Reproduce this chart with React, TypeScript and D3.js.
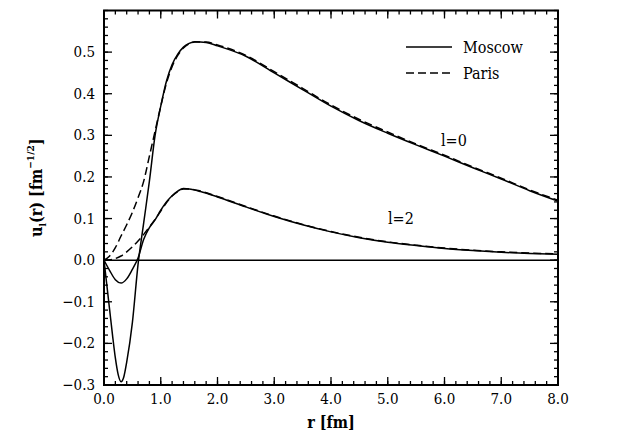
import React from "react";
import * as d3 from "d3";

const rS0M = [0, 0.05, 0.1, 0.15, 0.2, 0.25, 0.3, 0.35, 0.4, 0.5, 0.6, 0.7, 0.8, 0.9, 1.0, 1.1, 1.2, 1.3, 1.4, 1.5, 1.6, 1.8, 2.0, 2.5, 3.0, 3.5, 4.0, 4.5, 5.0, 5.5, 6.0, 6.5, 7.0, 7.5, 8.0];
const uS0Moscow = [0, -0.06, -0.12, -0.18, -0.235, -0.275, -0.292, -0.28, -0.245, -0.15, -0.01, 0.09, 0.19, 0.3, 0.37, 0.43, 0.47, 0.495, 0.512, 0.521, 0.525, 0.523, 0.515, 0.49, 0.45, 0.41, 0.37, 0.335, 0.305, 0.277, 0.25, 0.222, 0.195, 0.167, 0.142];

const rS0P = [0, 0.1, 0.2, 0.3, 0.4, 0.5, 0.6, 0.7, 0.8, 0.9, 1.0, 1.1, 1.2, 1.3, 1.4, 1.5, 1.6, 1.8, 2.0, 2.5, 3.0, 3.5, 4.0, 4.5, 5.0, 5.5, 6.0, 6.5, 7.0, 7.5, 8.0];
const uS0Paris = [0, 0.01, 0.03, 0.058, 0.085, 0.115, 0.15, 0.19, 0.25, 0.31, 0.37, 0.425, 0.465, 0.492, 0.51, 0.52, 0.524, 0.524, 0.517, 0.492, 0.453, 0.413, 0.373, 0.338, 0.308, 0.279, 0.252, 0.224, 0.197, 0.169, 0.144];

const rD2M = [0, 0.1, 0.2, 0.3, 0.4, 0.5, 0.6, 0.7, 0.8, 0.9, 1.0, 1.1, 1.2, 1.3, 1.4, 1.5, 1.7, 2.0, 2.5, 3.0, 3.5, 4.0, 4.5, 5.0, 5.5, 6.0, 6.5, 7.0, 7.5, 8.0];
const uD2Moscow = [0, -0.025, -0.047, -0.055, -0.045, -0.022, 0.005, 0.05, 0.078, 0.097, 0.12, 0.14, 0.155, 0.166, 0.172, 0.171, 0.165, 0.152, 0.128, 0.105, 0.085, 0.068, 0.054, 0.043, 0.035, 0.028, 0.023, 0.019, 0.016, 0.014];

const rD2P = [0, 0.1, 0.2, 0.3, 0.4, 0.5, 0.6, 0.7, 0.8, 0.9, 1.0, 1.1, 1.2, 1.3, 1.4, 1.5, 1.7, 2.0, 2.5, 3.0, 3.5, 4.0, 4.5, 5.0, 5.5, 6.0, 6.5, 7.0, 7.5, 8.0];
const uD2Paris = [0, 0.001, 0.004, 0.01, 0.02, 0.032, 0.046, 0.062, 0.08, 0.098, 0.118, 0.138, 0.154, 0.165, 0.171, 0.171, 0.166, 0.153, 0.129, 0.106, 0.086, 0.069, 0.055, 0.044, 0.036, 0.029, 0.024, 0.02, 0.017, 0.015];

const xTicks = [0, 1, 2, 3, 4, 5, 6, 7, 8];
const xTickLabels = ["0.0", "1.0", "2.0", "3.0", "4.0", "5.0", "6.0", "7.0", "8.0"];
const yTicks = [-0.3, -0.2, -0.1, 0, 0.1, 0.2, 0.3, 0.4, 0.5];
const yTickLabels = ["−0.3", "−0.2", "−0.1", "0.0", "0.1", "0.2", "0.3", "0.4", "0.5"];
const legendLabels = ["Moscow", "Paris"];

const W = 623, H = 439;
const left = 104, right = 558, top = 10.5, bottom = 385;
const txt: React.CSSProperties = { fontFamily: "DejaVu Serif", fontStretch: "condensed" };

export default function App() {
  const x = d3.scaleLinear().domain([0, 8]).range([left, right]);
  const y = d3.scaleLinear().domain([-0.3, 0.6]).range([bottom, top]);
  const line = (rs: number[], us: number[]) =>
    d3.line<number>().x((_, i) => x(rs[i])).y((d) => y(d)).curve(d3.curveMonotoneX)(us) || "";

  const xMinor = d3.range(0, 8.0001, 0.2);
  const yMinor = d3.range(-0.3, 0.6001, 0.02);

  return (
    <svg width={W} height={H} style={{ position: "absolute", left: 0, top: 0 }}>
      <rect width={W} height={H} fill="#fff" />
      {xMinor.map((v, i) => (
        <g key={"xm" + i}>
          <line x1={x(v)} x2={x(v)} y1={bottom} y2={bottom - 4} stroke="#000" strokeWidth={1.3} />
          <line x1={x(v)} x2={x(v)} y1={top} y2={top + 4} stroke="#000" strokeWidth={1.3} />
        </g>
      ))}
      {yMinor.map((v, i) => (
        <g key={"ym" + i}>
          <line x1={left} x2={left + 4} y1={y(v)} y2={y(v)} stroke="#000" strokeWidth={1.3} />
          <line x1={right} x2={right - 4} y1={y(v)} y2={y(v)} stroke="#000" strokeWidth={1.3} />
        </g>
      ))}
      {xTicks.map((v, i) => (
        <g key={"x" + i}>
          <line x1={x(v)} x2={x(v)} y1={bottom} y2={bottom - 8} stroke="#000" strokeWidth={1.3} />
          <line x1={x(v)} x2={x(v)} y1={top} y2={top + 8} stroke="#000" strokeWidth={1.3} />
          <text x={x(v)} y={bottom + 19} textAnchor="middle" style={txt} fontSize={15}>{xTickLabels[i]}</text>
        </g>
      ))}
      {yTicks.map((v, i) => (
        <g key={"y" + i}>
          <line x1={left} x2={left + 8} y1={y(v)} y2={y(v)} stroke="#000" strokeWidth={1.3} />
          <line x1={right} x2={right - 8} y1={y(v)} y2={y(v)} stroke="#000" strokeWidth={1.3} />
          <text x={left - 9} y={y(v) + 5} textAnchor="end" style={txt} fontSize={15}>{yTickLabels[i]}</text>
        </g>
      ))}
      <line x1={left} x2={right} y1={y(0)} y2={y(0)} stroke="#000" strokeWidth={1.5} />
      <g fill="none" stroke="#000" strokeWidth={1.5}>
        <path d={line(rS0M, uS0Moscow)} />
        <path d={line(rD2M, uD2Moscow)} />
        <path d={line(rS0P, uS0Paris)} strokeDasharray="8,4" />
        <path d={line(rD2P, uD2Paris)} strokeDasharray="8,4" />
      </g>
      <rect x={left} y={top} width={right - left} height={bottom - top} fill="none" stroke="#000" strokeWidth={2} />
      <line x1={406} x2={452} y1={47} y2={47} stroke="#000" strokeWidth={1.5} />
      <text x={463} y={53} style={txt} fontSize={16}>{legendLabels[0]}</text>
      <line x1={406} x2={452} y1={73} y2={73} stroke="#000" strokeWidth={1.5} strokeDasharray="8,4" />
      <text x={463} y={79} style={txt} fontSize={16}>{legendLabels[1]}</text>
      <text x={441} y={146} style={txt} fontSize={16}>l=0</text>
      <text x={388} y={224} style={txt} fontSize={16}>l=2</text>
      <text x={(left + right) / 2} y={428} textAnchor="middle" style={txt} fontSize={16} fontWeight="bold">r [fm]</text>
      <text transform={`translate(42, ${(top + bottom) / 2 - 10}) rotate(-90)`} textAnchor="middle" style={txt} fontSize={16} fontWeight="bold">
        u<tspan fontSize={10} dy={4}>l</tspan><tspan dy={-4}>(r) [fm</tspan><tspan fontSize={10} dy={-8}>−1/2</tspan><tspan dy={8}>]</tspan>
      </text>
    </svg>
  );
}
